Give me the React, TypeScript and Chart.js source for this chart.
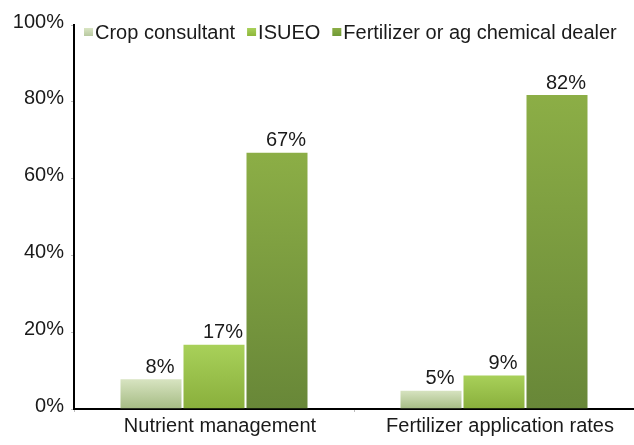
import React, { useEffect, useRef } from "react";
import { Chart, registerables } from "chart.js";

Chart.register(...registerables);

const categories = ["Nutrient management", "Fertilizer application rates"];
const seriesNames = ["Crop consultant", "ISUEO", "Fertilizer or ag chemical dealer"];
const cropConsultant = [8, 5];
const isueo = [17, 9];
const dealer = [67, 82];
const yTicks = [0, 20, 40, 60, 80, 100];

const FONT = "'Liberation Sans', Arial, sans-serif";

const gradStops: [string, string][] = [
  ["#d9e5c3", "#a5bb83"],
  ["#a9d15a", "#89af3c"],
  ["#8cae46", "#688738"],
];
const legendColors = ["#b9c9a1", "#8db63a", "#6f9a36"];

function barGradient(ctx: any, i: number) {
  const chart = ctx.chart;
  const area = chart.chartArea;
  if (!area) return gradStops[i][1];
  const y = chart.scales.y;
  const v = ctx.raw as number;
  const top = y.getPixelForValue(v);
  const bottom = y.getPixelForValue(0);
  const g = chart.ctx.createLinearGradient(0, top, 0, bottom);
  g.addColorStop(0, gradStops[i][0]);
  g.addColorStop(1, gradStops[i][1]);
  return g;
}

const valueLabels = {
  id: "valueLabels",
  afterDatasetsDraw(chart: any) {
    const c = chart.ctx;
    c.save();
    c.font = `20px ${FONT}`;
    c.fillStyle = "#1a1a1a";
    c.textAlign = "center";
    c.textBaseline = "bottom";
    chart.data.datasets.forEach((ds: any, di: number) => {
      const meta = chart.getDatasetMeta(di);
      meta.data.forEach((bar: any, i: number) => {
        c.fillText(ds.data[i] + "%", bar.x + 9, bar.y - 1);
      });
    });
    c.restore();
  },
};

const customLegend = {
  id: "customLegend",
  afterDraw(chart: any) {
    const c = chart.ctx;
    c.save();
    c.font = `20px ${FONT}`;
    c.textBaseline = "middle";
    c.textAlign = "left";
    let x = 84;
    const yMid = 32;
    chart.data.datasets.forEach((ds: any, di: number) => {
      const g = c.createLinearGradient(0, yMid - 4, 0, yMid + 4);
      g.addColorStop(0, gradStops[di][0]);
      g.addColorStop(1, legendColors[di]);
      c.fillStyle = g;
      c.fillRect(x, yMid - 4, 9, 8);
      c.fillStyle = "#1a1a1a";
      c.fillText(ds.label, x + 11, yMid + 1);
      x += 11 + c.measureText(ds.label).width + 12;
    });
    c.restore();
  },
};

export default function App() {
  const ref = useRef<HTMLCanvasElement>(null);
  useEffect(() => {
    if (!ref.current) return;
    const seriesData = [cropConsultant, isueo, dealer];
    const chart = new Chart(ref.current, {
      type: "bar",
      data: {
        labels: categories,
        datasets: seriesNames.map((name, i) => ({
          label: name,
          data: seriesData[i],
          backgroundColor: (ctx: any) => barGradient(ctx, i),
          borderColor: "rgba(255,255,255,0.3)",
          borderWidth: 1,
          categoryPercentage: 0.675,
          barPercentage: 1,
        })),
      },
      options: {
        responsive: false,
        animation: false,
        layout: { padding: { top: 25, left: 0, right: 0, bottom: 0 } },
        plugins: {
          legend: { display: false },
          tooltip: { enabled: false },
        },
        scales: {
          x: {
            border: { color: "#000", width: 2 },
            grid: { drawOnChartArea: false, tickLength: 3, color: "#bbbbbb", offset: true },
            ticks: { font: { family: FONT, size: 20 }, color: "#1a1a1a", padding: 2, labelOffset: 6, maxRotation: 0 },
            afterFit: (s: any) => { s.height = 36; },
          },
          y: {
            min: 0,
            max: 100,
            afterBuildTicks: (s: any) => { s.ticks = yTicks.map((v) => ({ value: v })); },
            border: { color: "#000", width: 2 },
            grid: { drawOnChartArea: false, tickLength: 3, color: "#bbbbbb" },
            ticks: {
              font: { family: FONT, size: 20 },
              color: "#1a1a1a",
              padding: 7,
              labelOffset: -3,
              callback: (v: any) => v + "%",
            },
            afterFit: (s: any) => { s.width = 74; },
          },
        },
      },
      plugins: [valueLabels, customLegend],
    });
    return () => chart.destroy();
  }, []);
  return (
    <div style={{ position: "fixed", left: 0, top: 0, width: 634, height: 445, background: "#fff" }}>
      <canvas ref={ref} width={634} height={445} style={{ display: "block" }} />
    </div>
  );
}
